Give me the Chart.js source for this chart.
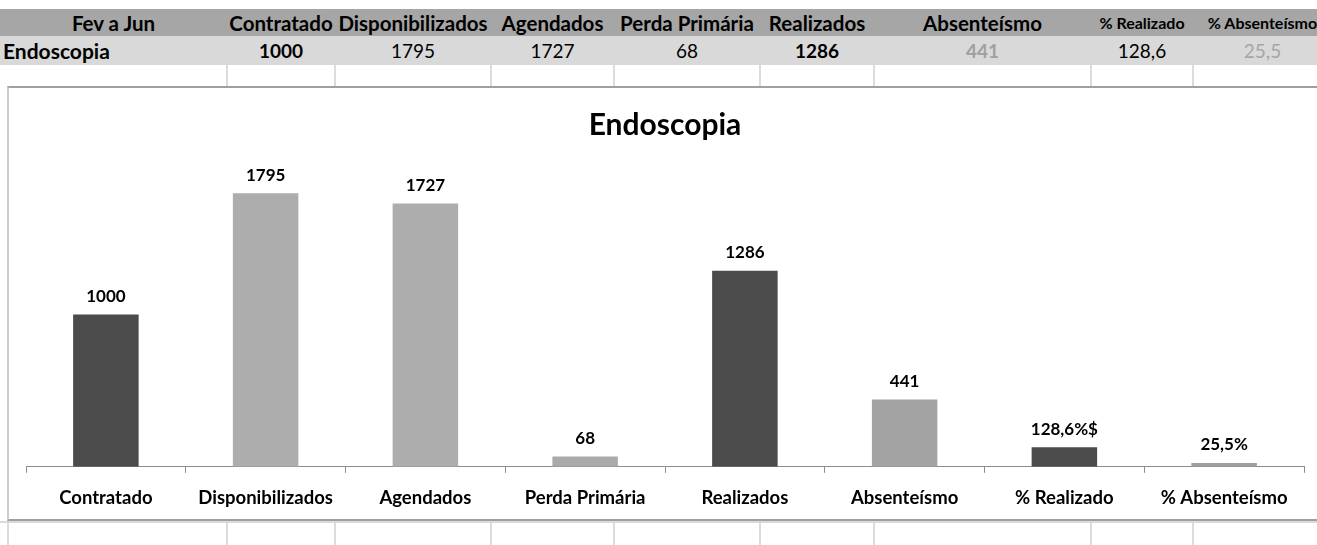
<!DOCTYPE html>
<html lang="pt-BR">
<head>
<meta charset="utf-8">
<title>Endoscopia</title>
<script src="https://cdn.jsdelivr.net/npm/chart.js@4/dist/chart.umd.min.js"></script>
<style>
  html, body {
    margin: 0;
    width: 1317px;
    height: 545px;
    overflow: hidden;
    background: #fff;
  }
  body {
    position: relative;
    font-family: Lato, 'Open Sans', sans-serif;
  }
  .linha { position: absolute; left: 0; width: 1317px; overflow: hidden; }
  .celula {
    position: absolute;
    top: 0;
    height: 100%;
    display: flex;
    align-items: center;
    justify-content: center;
    white-space: nowrap;
    color: #000;
  }
  .grade { position: absolute; top: 0; width: 2px; height: 100%; background: #dcdcdc; }
  #quadro {
    position: absolute;
    left: 7px;
    top: 86px;
    width: 1310px;
    height: 431px;
    background: #fff;
    border-top: 2px solid #a0a0a0;
    border-left: 2px solid #cdcdcd;
    border-bottom: 2px solid #a0a0a0;
  }
  #area {
    position: absolute;
    left: 9px;
    top: 89px;
    width: 1308px;
    height: 443px;
  }
</style>
</head>
<body>

<div id="planilha"></div>
<div id="quadro"></div>
<div id="area"><canvas id="graficoEndoscopia" width="1308" height="443"></canvas></div>

<script>
// Dados do período (Fev a Jun)
const periodo = 'Fev a Jun';
const servico = 'Endoscopia';
const categorias = ['Contratado', 'Disponibilizados', 'Agendados', 'Perda Primária', 'Realizados', 'Absenteísmo', '% Realizado', '% Absenteísmo'];
const valores = [1000, 1795, 1727, 68, 1286, 441, 128.6, 25.5];
const sufixos = ['', '', '', '', '', '', '%$', '%'];

// Colunas da planilha (limites em px)
const colunas = [0, 227, 335, 491, 614, 760, 874, 1091, 1193, 1332];

const corEscura = '#4b4b4b';
const coresBarras = [corEscura, '#adadad', '#adadad', '#aaaaaa', corEscura, '#a3a3a3', corEscura, '#9e9e9e'];

let grafico = null;

function formatarValor(v) {
  return String(v).replace('.', ',');
}

// Cria uma linha da planilha com as células informadas
function criarLinha(topo, altura, fundo, celulas) {
  const linha = document.createElement('div');
  linha.className = 'linha';
  linha.style.top = topo + 'px';
  linha.style.height = altura + 'px';
  linha.style.background = fundo;
  celulas.forEach((c, i) => {
    const cel = document.createElement('div');
    cel.className = 'celula';
    cel.style.left = colunas[i] + 'px';
    cel.style.width = (colunas[i + 1] - colunas[i]) + 'px';
    cel.textContent = c.texto;
    cel.style.fontSize = (c.tamanho || 19) + 'px';
    cel.style.fontWeight = c.negrito ? 'bold' : 'normal';
    if (c.cor) cel.style.color = c.cor;
    if (c.esquerda) {
      cel.style.justifyContent = 'flex-start';
      cel.style.paddingLeft = '3px';
    }
    linha.appendChild(cel);
  });
  document.getElementById('planilha').appendChild(linha);
  return linha;
}

function criarGrade(topo, altura, inicio) {
  const linha = document.createElement('div');
  linha.className = 'linha';
  linha.style.top = topo + 'px';
  linha.style.height = altura + 'px';
  colunas.slice(inicio, -1).forEach(x => {
    const g = document.createElement('div');
    g.className = 'grade';
    g.style.left = (x - 1) + 'px';
    linha.appendChild(g);
  });
  document.getElementById('planilha').appendChild(linha);
  return linha;
}

function montarPlanilha() {
  const cabecalho = [{ texto: periodo, negrito: true, tamanho: 20.5 }].concat(
    categorias.map(c => ({ texto: c, negrito: true, tamanho: c.startsWith('%') ? 16 : 20.5 }))
  );
  criarLinha(9, 27, '#a6a6a6', cabecalho);

  const negritos = [true, false, false, false, true, true, false, false];
  const coresTexto = ['#000', '#000', '#000', '#000', '#000', '#a0a0a0', '#000', '#a6a6a6'];
  const dados = [{ texto: servico, negrito: true, esquerda: true, tamanho: 21 }].concat(
    valores.map((v, i) => ({ texto: formatarValor(v), negrito: negritos[i], cor: coresTexto[i] }))
  );
  criarLinha(36, 29, '#d9d9d9', dados);

  criarGrade(65, 22, 1);

  // linha abaixo do gráfico
  const baixo = criarGrade(521, 30, 0);
  baixo.style.borderTop = '2px solid #d9d9d9';
  baixo.firstChild.style.left = '7px';
}

// Plugin simples para escrever o valor acima de cada barra
const rotulosValores = {
  id: 'rotulosValores',
  afterDatasetsDraw(chart) {
    const ctx = chart.ctx;
    const meta = chart.getDatasetMeta(0);
    ctx.save();
    ctx.font = 'bold 17px Lato, sans-serif';
    ctx.fillStyle = '#000';
    ctx.textAlign = 'center';
    ctx.textBaseline = 'middle';
    meta.data.forEach((barra, i) => {
      ctx.fillText(formatarValor(valores[i]) + sufixos[i], barra.x, barra.y - 18);
    });
    ctx.restore();
  }
};

function inicializarGrafico() {
  if (grafico) {
    grafico.destroy();
  }

  const canvas = document.getElementById('graficoEndoscopia');
  grafico = new Chart(canvas, {
    type: 'bar',
    data: {
      labels: categorias,
      datasets: [{
        data: valores,
        backgroundColor: coresBarras,
        borderWidth: 0,
        barPercentage: 0.41,
        categoryPercentage: 1
      }]
    },
    options: {
      responsive: false,
      devicePixelRatio: 1,
      animation: false,
      layout: {
        padding: { left: 17, right: 13, top: 0, bottom: 9 }
      },
      plugins: {
        legend: { display: false },
        tooltip: { enabled: false },
        title: {
          display: true,
          text: servico,
          color: '#000',
          font: { family: 'Lato, sans-serif', size: 30, weight: 'bold' },
          padding: { top: 18, bottom: 19 }
        }
      },
      scales: {
        x: {
          border: { display: true, color: '#8c8c8c', width: 1 },
          grid: {
            drawOnChartArea: false,
            drawTicks: true,
            tickLength: 6,
            color: '#8c8c8c'
          },
          ticks: {
            color: '#000',
            padding: 14,
            maxRotation: 0,
            autoSkip: false,
            font: { family: 'Lato, sans-serif', size: 18.5, weight: 'bold' }
          }
        },
        y: {
          display: false,
          min: 0,
          max: 2000
        }
      }
    },
    plugins: [rotulosValores]
  });
}

montarPlanilha();
inicializarGrafico();
</script>
</body>
</html>
